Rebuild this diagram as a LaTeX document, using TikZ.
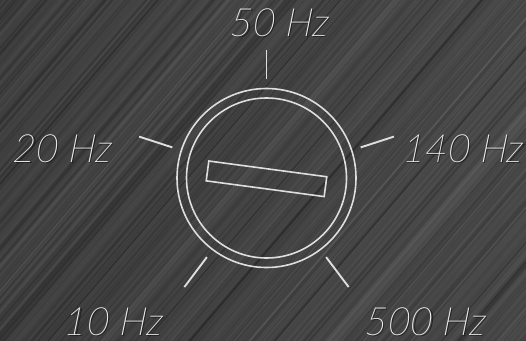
\documentclass[tikz,border=0pt]{standalone}
\usepackage{fontspec}
\usetikzlibrary{calc}
\IfFontExistsTF{Lato Thin Italic}{\newfontfamily\lbl{Lato Thin Italic}[FakeSlant=0.08]}{%
  \IfFontExistsTF{Lato Light Italic}{\newfontfamily\lbl{Lato Light Italic}[FakeSlant=0.08]}{%
    \newfontfamily\lbl{Lato}[FakeSlant=0.25]}}
\definecolor{bgleft}{HTML}{3F3F3F}
\definecolor{bgright}{HTML}{4A4A4A}
\definecolor{linec}{HTML}{DEDEDE}
\definecolor{textc}{HTML}{F2F2F2}
\tikzset{
  ring/.style={circle, draw=linec, line width=1.6pt, inner sep=0pt, fill=none},
  slotbox/.style={draw=linec, line width=1.6pt, inner sep=0pt, minimum width=119pt, minimum height=20pt},
  tick/.style={draw=linec, line width=1.9pt},
  lab/.style={anchor=base, inner sep=0pt, text depth=0pt, text=textc, font=\lbl\fontsize{39}{42}\selectfont},
  labshadow/.style={anchor=base, inner sep=0pt, text depth=0pt, text=black, opacity=0.5, font=\lbl\fontsize{39}{42}\selectfont},
}
\begin{document}
\begin{tikzpicture}[x=1pt, y=-1pt]
\useasboundingbox (0,0) rectangle (526,340);
\shade[left color=bgleft, right color=bgright] (0,0) rectangle (526,340);
\begin{scope}
\clip (0,0) rectangle (526,340);
\pgfmathsetseed{11}
\foreach \i in {1,...,520} {
  \pgfmathsetmacro\xx{rnd*900-320}
  \pgfmathsetmacro\ww{0.5+rnd*2.2}
  \pgfmathsetmacro\op{0.03+rnd*0.08}
  \pgfmathsetmacro\dk{rnd}
  \ifdim\dk pt<0.6pt
    \draw[black, line width=\ww pt, opacity=\op] (\xx,345) -- ++(300,-350);
  \else
    \draw[white, line width=\ww pt, opacity=\op*0.4] (\xx,345) -- ++(300,-350);
  \fi
}
\end{scope}
% knob
\coordinate (c) at (266.5,178);
\node[ring, minimum size=179pt] (outer) at (c) {};
\node[ring, minimum size=160pt] (inner) at (c) {};
\node[slotbox, rotate=-7.6] (slot) at (266.5,178.8) {};
% ticks
\coordinate (t50a) at ($(c)+(-90:99)$);
\coordinate (t50b) at ($(c)+(-90:128)$);
\coordinate (t20a) at ($(c)+(-162:99)$);
\coordinate (t20b) at ($(c)+(-162:134)$);
\coordinate (t140a) at ($(c)+(-18:99)$);
\coordinate (t140b) at ($(c)+(-18:134)$);
\coordinate (t10a) at ($(c)+(127:99)$);
\coordinate (t10b) at ($(c)+(127:136.5)$);
\coordinate (t500a) at ($(c)+(53:99)$);
\coordinate (t500b) at ($(c)+(53:136.5)$);
\draw[tick] (t50a) -- (t50b);
\draw[tick] (t20a) -- (t20b);
\draw[tick] (t140a) -- (t140b);
\draw[tick] (t10a) -- (t10b);
\draw[tick] (t500a) -- (t500b);
% labels
\node[labshadow] (s50) at (280.2,37.2) {50 Hz};
\node[lab] (l50) at (279,36) {50 Hz};
\node[labshadow] (s20) at (63.2,163.2) {20 Hz};
\node[lab] (l20) at (62,162) {20 Hz};
\node[labshadow] (s140) at (463.7,163.2) {140 Hz};
\node[lab] (l140) at (462.5,162) {140 Hz};
\node[labshadow] (s10) at (114.2,336.2) {10 Hz};
\node[lab] (l10) at (113,335) {10 Hz};
\node[labshadow] (s500) at (426.2,336.2) {500 Hz};
\node[lab] (l500) at (425,335) {500 Hz};
\end{tikzpicture}
\end{document}
